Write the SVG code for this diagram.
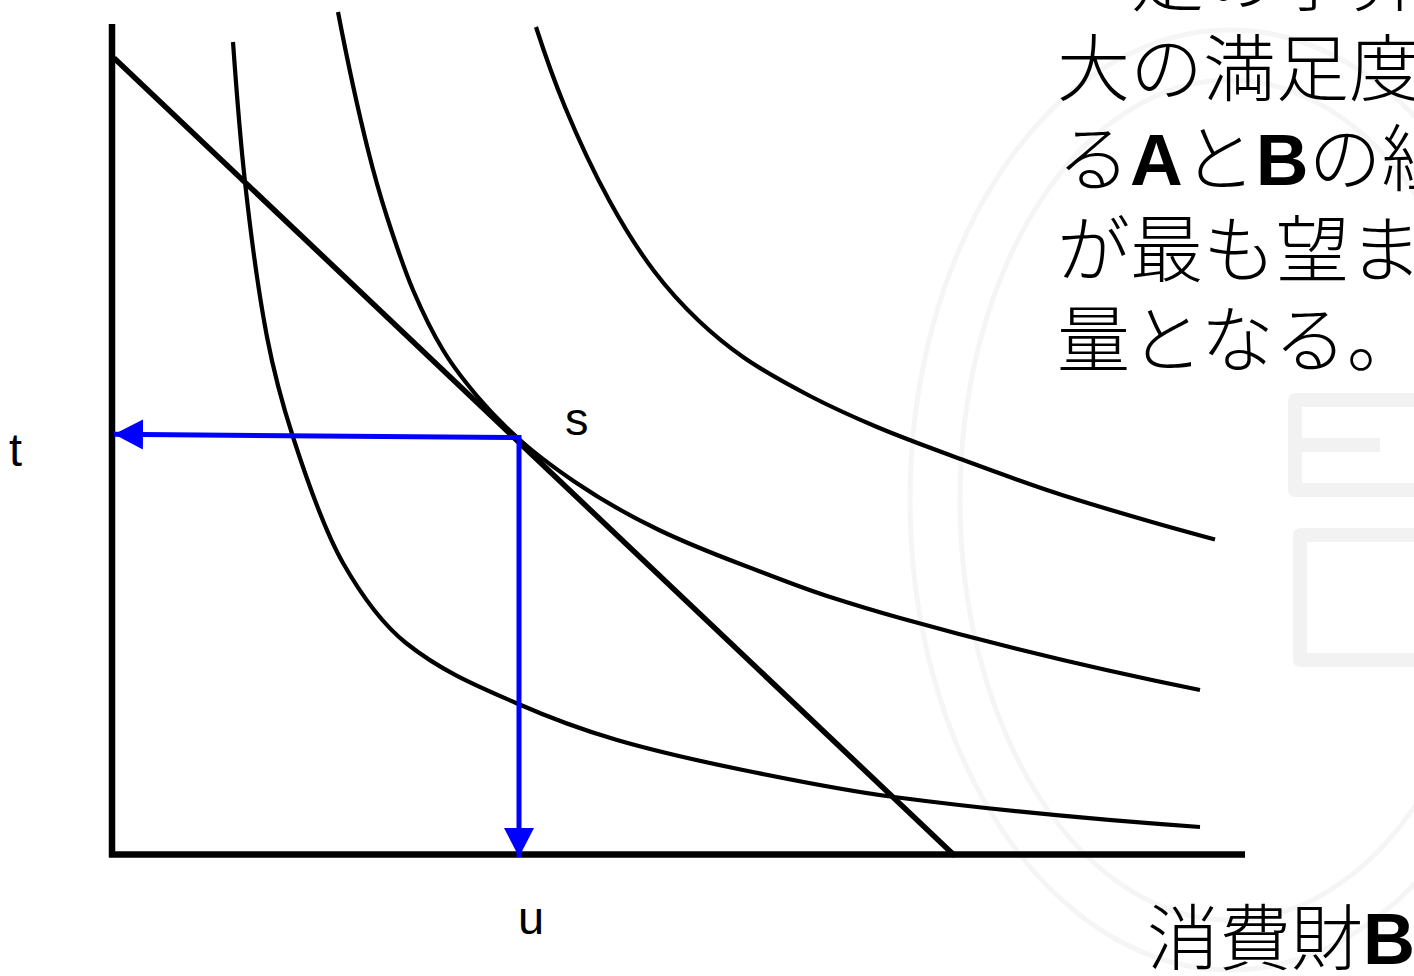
<svg xmlns="http://www.w3.org/2000/svg" width="1414" height="976" viewBox="0 0 1414 976">
  <style>
    .bg { fill: #ffffff; }
    .wm { fill: none; stroke: #f5f5f5; stroke-width: 5; }
    .wmb { fill: none; stroke: #f2f2f2; stroke-width: 14; stroke-linejoin: round; }
    .axis { stroke: #000; stroke-width: 6.5; fill: none; }
    .budget { stroke: #000; stroke-width: 5.5; fill: none; }
    .curve { stroke: #000; stroke-width: 4.2; fill: none; }
    .guide { stroke: #0000ff; stroke-width: 5; fill: none; }
    .lbl { font-family: "Liberation Sans", "DejaVu Sans", sans-serif; font-size: 47px; fill: #000; }
    .jp { font-family: "Noto Sans CJK JP", "Noto Sans CJK SC", sans-serif; font-size: 73px; font-weight: 300; fill: #000; }
    .lat { font-family: "Liberation Sans", "Noto Sans CJK JP", sans-serif; font-weight: bold; }
  </style>
  <defs>
    <marker id="arrowBlue" markerUnits="userSpaceOnUse" markerWidth="32" markerHeight="32" refX="29" refY="15" orient="auto">
      <path d="M0,0 L29,15 L0,30 Z" fill="#0000ff"/>
    </marker>
  </defs>
  <rect class="bg" x="0" y="0" width="1414" height="976"/>

  <g id="watermark">
    <ellipse class="wm" cx="1230" cy="500" rx="320" ry="470"/>
    <ellipse class="wm" cx="1230" cy="500" rx="270" ry="420"/>
    <path class="wmb" d="M1414,400 L1295,400 L1295,490 L1414,490 M1295,445 L1380,445"/>
    <path class="wmb" d="M1414,535 L1300,535 L1300,660 L1414,660"/>
  </g>

  <g id="axes">
    <line class="axis" x1="112" y1="24" x2="112" y2="857"/>
    <line class="axis" x1="109" y1="854.5" x2="1245" y2="854.5"/>
  </g>

  <g id="budget-line">
    <line class="budget" x1="114" y1="58" x2="955" y2="856"/>
  </g>

  <g id="indifference-curve-1">
    <path class="curve" d="M233,42 C237,98 241,146 245,182 C252.3,248 259.7,298.9 267,337 C275.7,382.1 284.3,410.1 293,437 C309.7,488.7 326.3,533.8 343,563 C364,599.8 385,626.2 406,643 C442.7,672.3 479.3,686.9 516,703 C549.7,717.8 583.3,730.2 617,740 C659,752.2 701,761.4 743,770 C793.3,780.3 843.7,790.5 894,797 C996,810.3 1098,819.9 1200,827"/>
  </g>

  <g id="indifference-curve-2">
    <path class="curve" d="M338,12 C348,64 358,110 368,150 C374.3,175.3 380.7,197.4 387,217 C395.7,243.9 404.3,269.6 413,290 C423,313.5 433,333.5 443,350 C456.3,372 469.7,387.7 483,403 C495.3,417.2 507.7,428.9 520,440 C538.3,456.5 556.7,469.5 575,482 C603,501 631,516.6 659,530 C687,543.4 715,554.4 743,565 C771,575.6 799,587 827,596 C851.3,603.8 875.7,611.2 900,618 C1000,646 1100,670 1200,690"/>
  </g>

  <g id="indifference-curve-3">
    <path class="curve" d="M536,27 C545.7,57 555.3,83.6 565,107 C579.7,142.5 594.3,173.2 609,200 C624,227.5 639,251.2 654,271 C669,290.8 684,306.8 699,321 C713.7,334.9 728.3,346.7 743,357 C765.3,372.6 787.7,384.4 810,396 C832.3,407.6 854.7,417.6 877,427 C906.7,439.5 936.3,450 966,461 C996,472.1 1026,483.1 1056,493 C1085.7,502.8 1115.3,511.4 1145,520 C1168.3,526.8 1191.7,533.2 1215,539.5"/>
  </g>

  <g id="connectors">
    <line class="guide" x1="519" y1="437.5" x2="114" y2="434.3" marker-end="url(#arrowBlue)"/>
    <line class="guide" x1="519" y1="435" x2="519" y2="857" marker-end="url(#arrowBlue)"/>
  </g>

  <g id="label-s"><text class="lbl" x="565" y="435">s</text></g>
  <g id="label-t"><text class="lbl" x="9" y="466">t</text></g>
  <g id="label-u"><text class="lbl" x="518" y="934">u</text></g>

  <g id="description">
    <text class="jp" x="1131" y="5">定の予算</text>
    <text class="jp" x="1057" y="95">大の満足度</text>
    <text class="jp" x="1057" y="185">る<tspan class="lat">A</tspan>と<tspan class="lat">B</tspan>の組</text>
    <text class="jp" x="1057" y="276">が最も望ま</text>
    <text class="jp" x="1057" y="366">量となる。</text>
  </g>

  <g id="axis-label-b">
    <text class="jp" x="1147" y="964" style="font-size:72px">消費財<tspan class="lat">B</tspan></text>
  </g>
</svg>
